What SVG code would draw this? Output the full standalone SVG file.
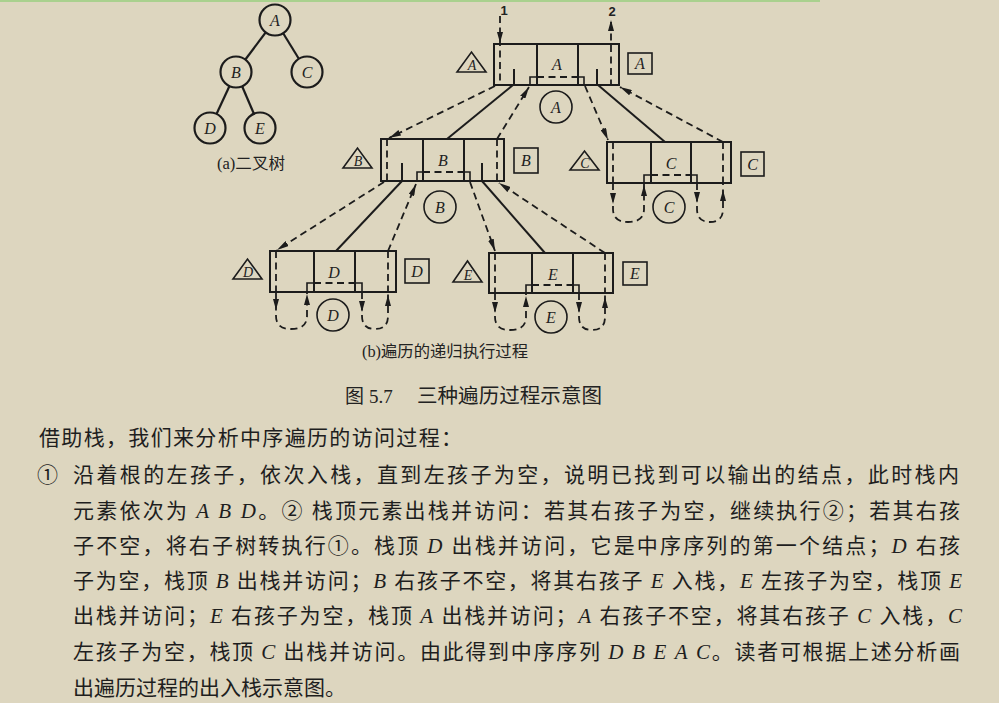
<svg xmlns="http://www.w3.org/2000/svg" xmlns:xlink="http://www.w3.org/1999/xlink" width="999" height="703" viewBox="0 0 999 703">
  <style>
    .ln { fill: none; stroke: #1c1c1c; stroke-width: 2; }
    .th { fill: none; stroke: #1c1c1c; stroke-width: 1.6; }
    .dash { fill: none; stroke: #1c1c1c; stroke-width: 1.8; stroke-dasharray: 7 4.5; }
    .lbl { font-family: "Liberation Serif", serif; font-style: italic; font-size: 16px; fill: #222; text-anchor: middle; }
    .sm { font-size: 14px; }
    .num { font-family: "Liberation Sans", sans-serif; font-weight: bold; font-size: 13px; fill: #222; text-anchor: middle; }
    .cap { font-family: "Liberation Serif", "Noto Sans CJK SC", serif; font-size: 16px; fill: #222; }
    .body { font-family: "Noto Sans CJK SC", sans-serif; font-size: 21px; fill: #1e1e1e; }
    .it { font-family: "Liberation Serif", serif; font-style: italic; }
    .ah { fill: #1c1c1c; }
  </style>
  <defs>
    <marker id="arr" viewBox="0 0 12 6" refX="12" refY="3" markerWidth="12" markerHeight="6" markerUnits="userSpaceOnUse" orient="auto">
      <path d="M0,0 L12,3 L0,6 Z" fill="#1c1c1c"/>
    </marker>
    <!-- arrowhead pointing +x, tip at origin -->
    <path id="ah" d="M0,0 L-11,-3 L-11,3 Z"/>
  </defs>

  <rect x="0" y="0" width="999" height="703" fill="#ddd6bf"/>
  <rect x="0" y="0" width="820" height="2" fill="#a9d18e"/>

  <!-- (a) binary tree -->
  <g id="tree">
    <g class="ln" style="stroke-width:2.2">
      <line x1="275" y1="20" x2="236" y2="72"/>
      <line x1="275" y1="20" x2="307" y2="72"/>
      <line x1="236" y1="72" x2="210" y2="128"/>
      <line x1="236" y1="72" x2="260" y2="128"/>
    </g>
    <g class="ln" style="fill:#ddd6bf;stroke-width:2.2">
      <circle cx="275" cy="20" r="15.5"/>
      <circle cx="236" cy="72" r="15.5"/>
      <circle cx="307" cy="72" r="15.5"/>
      <circle cx="210" cy="128" r="15.5"/>
      <circle cx="260" cy="128" r="15.5"/>
    </g>
    <text class="lbl" x="275" y="25.5">A</text>
    <text class="lbl" x="236" y="77.5">B</text>
    <text class="lbl" x="307" y="77.5">C</text>
    <text class="lbl" x="210" y="133.5">D</text>
    <text class="lbl" x="260" y="133.5">E</text>
    <text class="cap" x="217" y="169" textLength="68" lengthAdjust="spacingAndGlyphs">(a)二叉树</text>
  </g>

  <!-- (b) recursive execution frames -->
  <g id="nodeA">
    <rect class="ln" x="494" y="44" width="125" height="41"/>
    <path class="ln" d="M537,44 V85 M578,44 V85 M514,69 V85 M597,69 V85"/>
    <path class="th" d="M530,85 V77 H537 M578,77 H584 V85"/>
    <path class="dash" d="M537,77 H578"/>
    <path class="dash" d="M500,16 V85 M611,22 V85"/>
    <use xlink:href="#ah" class="ah" transform="translate(500,43) rotate(90)"/>
    <use xlink:href="#ah" class="ah" transform="translate(611,20) rotate(-90)"/>
    <text class="num" x="504" y="15">1</text>
    <text class="num" x="612" y="16">2</text>
    <text class="lbl" x="557" y="70">A</text>
    <polygon class="th" points="457,72 471.5,52 486,72"/>
    <text class="lbl sm" x="472" y="70">A</text>
    <rect class="th" x="628" y="53" width="24" height="21"/>
    <text class="lbl" x="640" y="69">A</text>
    <circle class="th" cx="556" cy="107" r="16"/>
    <text class="lbl" x="556" y="112.5">A</text>
  </g>

  <g id="nodeB">
    <rect class="ln" x="381" y="139" width="123" height="42"/>
    <path class="ln" d="M423,139 V181 M464,139 V181 M402,163 V181 M482,163 V181"/>
    <path class="th" d="M417,181 V172 H423 M464,172 H470 V181"/>
    <path class="dash" d="M423,172 H464 M387,139 V181 M497,139 V181"/>
    <text class="lbl" x="443" y="166">B</text>
    <polygon class="th" points="343,168 357.5,148 372,168"/>
    <text class="lbl sm" x="358" y="166">B</text>
    <rect class="th" x="514" y="148" width="24" height="25"/>
    <text class="lbl" x="526" y="166">B</text>
    <circle class="th" cx="440" cy="207" r="16"/>
    <text class="lbl" x="440" y="212.5">B</text>
  </g>

  <g id="nodeC">
    <rect class="ln" x="607" y="142" width="124" height="41"/>
    <path class="ln" d="M651,142 V183 M691,142 V183"/>
    <path class="th" d="M644,183 V175 H651 M691,175 H697 V183"/>
    <path class="dash" d="M651,175 H691 M613,142 V183 M723,142 V183"/>
    <path class="dash" d="M613,183 V209 Q613,222 628,222 Q644,222 644,209 V184"/>
    <path class="dash" d="M697,183 V209 Q697,222 710,222 Q723,222 723,209 V184"/>
    <use xlink:href="#ah" class="ah" transform="translate(613,204) rotate(90)"/>
    <use xlink:href="#ah" class="ah" transform="translate(644,185) rotate(-90)"/>
    <use xlink:href="#ah" class="ah" transform="translate(697,203) rotate(90)"/>
    <use xlink:href="#ah" class="ah" transform="translate(723,190) rotate(-90)"/>
    <text class="lbl" x="671" y="169">C</text>
    <polygon class="th" points="570,170 584.5,151 599,170"/>
    <text class="lbl sm" x="585" y="168">C</text>
    <rect class="th" x="741" y="152" width="23" height="24"/>
    <text class="lbl" x="752.5" y="169.5">C</text>
    <circle class="th" cx="669" cy="207" r="16"/>
    <text class="lbl" x="669" y="212.5">C</text>
  </g>

  <g id="nodeD">
    <rect class="ln" x="270" y="251" width="126" height="41"/>
    <path class="ln" d="M314,251 V292 M355,251 V292"/>
    <path class="th" d="M307,292 V283 H314 M355,283 H362 V292"/>
    <path class="dash" d="M314,283 H355 M276,251 V292 M388,251 V292"/>
    <path class="dash" d="M276,292 V316 Q276,329 291,329 Q307,329 307,316 V293"/>
    <path class="dash" d="M362,292 V316 Q362,329 375,329 Q388,329 388,316 V293"/>
    <use xlink:href="#ah" class="ah" transform="translate(276,310) rotate(90)"/>
    <use xlink:href="#ah" class="ah" transform="translate(307,294) rotate(-90)"/>
    <use xlink:href="#ah" class="ah" transform="translate(362,312) rotate(90)"/>
    <use xlink:href="#ah" class="ah" transform="translate(388,295) rotate(-90)"/>
    <text class="lbl" x="334" y="278">D</text>
    <polygon class="th" points="233,279 247.5,259 262,279"/>
    <text class="lbl sm" x="248" y="277">D</text>
    <rect class="th" x="405" y="259" width="24" height="24"/>
    <text class="lbl" x="417" y="276.5">D</text>
    <circle class="th" cx="333" cy="315" r="16"/>
    <text class="lbl" x="333" y="320.5">D</text>
  </g>

  <g id="nodeE">
    <rect class="ln" x="489" y="253" width="124" height="40"/>
    <path class="ln" d="M532,253 V293 M573,253 V293"/>
    <path class="th" d="M526,293 V285 H532 M573,285 H579 V293"/>
    <path class="dash" d="M532,285 H573 M495,253 V293 M605,253 V293"/>
    <path class="dash" d="M495,293 V317 Q495,330 510,330 Q526,330 526,317 V294"/>
    <path class="dash" d="M579,293 V317 Q579,330 592,330 Q605,330 605,317 V294"/>
    <use xlink:href="#ah" class="ah" transform="translate(495,313) rotate(90)"/>
    <use xlink:href="#ah" class="ah" transform="translate(526,296) rotate(-90)"/>
    <use xlink:href="#ah" class="ah" transform="translate(579,313) rotate(90)"/>
    <use xlink:href="#ah" class="ah" transform="translate(605,297) rotate(-90)"/>
    <text class="lbl" x="553" y="280">E</text>
    <polygon class="th" points="453,282 467.5,261 482,282"/>
    <text class="lbl sm" x="468" y="280">E</text>
    <rect class="th" x="623" y="262" width="24" height="23"/>
    <text class="lbl" x="635" y="279">E</text>
    <circle class="th" cx="551" cy="317" r="16"/>
    <text class="lbl" x="551" y="322.5">E</text>
  </g>

  <g id="connectors">
    <!-- A to its subtrees -->
    <path class="dash" d="M495,86 L389,138" marker-end="url(#arr)"/>
    <path class="ln" d="M513,85 L447,139"/>
    <path class="dash" d="M497,139 L529,87" marker-end="url(#arr)"/>
    <path class="dash" d="M585,86 L608,140" marker-end="url(#arr)"/>
    <path class="ln" d="M598,85 L665,142"/>
    <path class="dash" d="M723,142 L620,87" marker-end="url(#arr)"/>
    <!-- B to its subtrees -->
    <path class="dash" d="M384,182 L277,250" marker-end="url(#arr)"/>
    <path class="ln" d="M402,181 L336,251"/>
    <path class="dash" d="M388,251 L416,184" marker-end="url(#arr)"/>
    <path class="dash" d="M470,182 L495,251" marker-end="url(#arr)"/>
    <path class="ln" d="M482,181 L545,253"/>
    <path class="dash" d="M605,253 L499,183" marker-end="url(#arr)"/>
  </g>

  <text class="cap" x="362" y="357" textLength="166" lengthAdjust="spacingAndGlyphs">(b)遍历的递归执行过程</text>

  <g id="caption" style="font-family:'Liberation Serif','Noto Sans CJK SC',serif;fill:#222">
    <text x="345" y="403" font-size="19">图</text>
    <text x="369" y="403" font-size="19">5.7</text>
    <text x="417" y="403" font-size="20" textLength="185" lengthAdjust="spacingAndGlyphs">三种遍历过程示意图</text>
  </g>

  <g id="paragraph" class="body">
    <text x="39" y="445" textLength="423">借助栈，我们来分析中序遍历的访问过程：</text>
    <text x="37" y="482">①</text>
    <text x="73" y="482" textLength="886">沿着根的左孩子，依次入栈，直到左孩子为空，说明已找到可以输出的结点，此时栈内</text>
    <text x="73" y="518" textLength="887">元素依次为 <tspan class="it">A B D</tspan>。② 栈顶元素出栈并访问：若其右孩子为空，继续执行②；若其右孩</text>
    <text x="73" y="553" textLength="887">子不空，将右子树转执行①。栈顶 <tspan class="it">D</tspan> 出栈并访问，它是中序序列的第一个结点；<tspan class="it">D</tspan> 右孩</text>
    <text x="73" y="588" textLength="889">子为空，栈顶 <tspan class="it">B</tspan> 出栈并访问；<tspan class="it">B</tspan> 右孩子不空，将其右孩子 <tspan class="it">E</tspan> 入栈，<tspan class="it">E</tspan> 左孩子为空，栈顶 <tspan class="it">E</tspan></text>
    <text x="73" y="623" textLength="889">出栈并访问；<tspan class="it">E</tspan> 右孩子为空，栈顶 <tspan class="it">A</tspan> 出栈并访问；<tspan class="it">A</tspan> 右孩子不空，将其右孩子 <tspan class="it">C</tspan> 入栈，<tspan class="it">C</tspan></text>
    <text x="73" y="659" textLength="887">左孩子为空，栈顶 <tspan class="it">C</tspan> 出栈并访问。由此得到中序序列 <tspan class="it">D B E A C</tspan>。读者可根据上述分析画</text>
    <text x="73" y="695">出遍历过程的出入栈示意图。</text>
  </g>
</svg>
